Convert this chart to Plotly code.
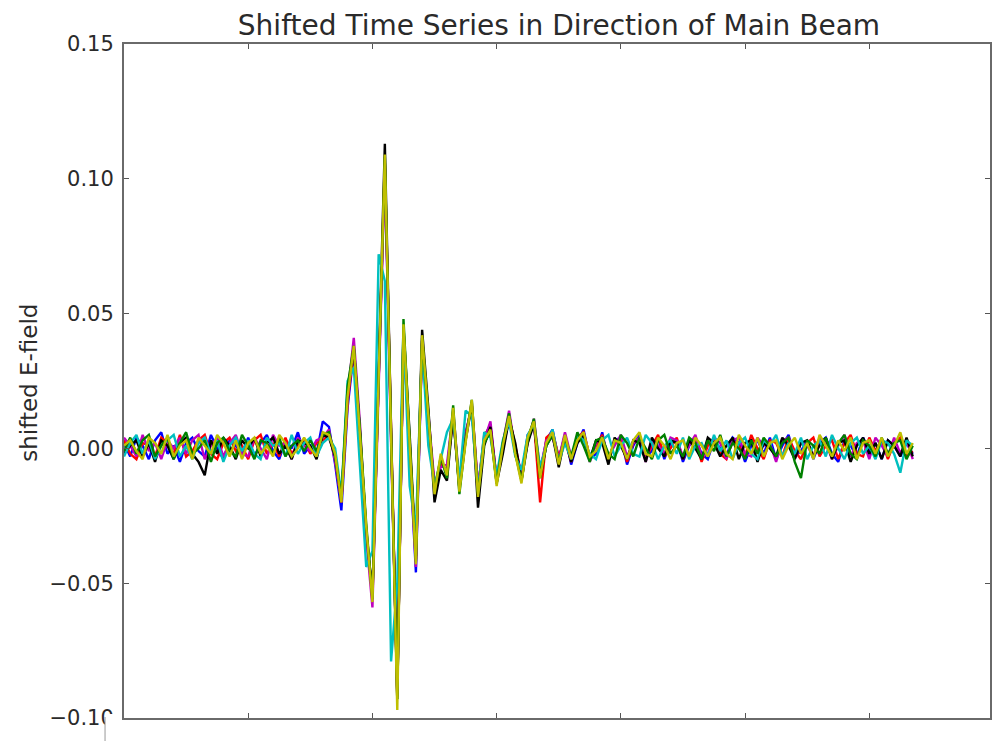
import plotly.graph_objects as go

# Sample spacing along the time axis
dt = 5

# Shifted E-field traces, one per antenna (matplotlib classic colour cycle)
trace_b = [
    0.002, -0.003, 0.004, 0.001, -0.004, 0.003, 0.006, -0.002, 0.001, -0.005,
    0.002, 0.004, -0.001, -0.003, 0.005, 0.000, -0.004, 0.003, 0.001, -0.002,
    0.004, -0.003, 0.002, 0.005, -0.001, -0.004, 0.003, 0.000, 0.006, -0.002,
    0.001, -0.002, 0.010, 0.008, -0.006, -0.023, 0.015, 0.036, 0.004, -0.032,
    -0.054, 0.026, 0.105, 0.004, -0.090, 0.043, -0.002, -0.046, 0.040, 0.010,
    -0.015, -0.006, -0.008, 0.013, -0.015, 0.006, 0.015, -0.016, 0.004, 0.009,
    -0.012, -0.001, 0.011, 0.000, -0.011, 0.005, 0.008, -0.009, 0.003, 0.007,
    -0.004,
    0.005, -0.006, 0.002, 0.007, -0.004, -0.002, 0.006, -0.005, 0.003, 0.004,
    -0.006, 0.001, 0.005, -0.003, -0.001, 0.004, -0.004, 0.002, 0.003, -0.005,
    0.001, 0.004, -0.002, -0.004, 0.003, 0.000, -0.003, 0.004, 0.002, -0.005,
    0.001, 0.003, -0.002, 0.004, -0.004, 0.001, 0.005, -0.003, -0.001, 0.003,
    -0.004, 0.002, 0.004, -0.002, -0.005, 0.003, 0.001, -0.003, 0.004, -0.001,
    0.002, -0.004, 0.003, 0.001, -0.003, 0.002, -0.002,
]

trace_g = [
    -0.001, 0.004, -0.002, 0.003, 0.005, -0.003, 0.001, 0.004, -0.004, 0.002,
    0.006, -0.002, 0.000, 0.003, -0.005, 0.002, 0.004, -0.001, -0.003, 0.005,
    0.001, -0.004, 0.003, 0.002, -0.002, 0.004, -0.003, 0.001, 0.003, -0.001,
    0.003, -0.001, 0.005, 0.006, -0.003, -0.018, 0.023, 0.038, 0.007, -0.028,
    -0.056, 0.028, 0.108, 0.006, -0.093, 0.048, 0.002, -0.042, 0.041, 0.013,
    -0.016, -0.003, -0.011, 0.016, -0.017, 0.003, 0.018, -0.017, 0.002, 0.006,
    -0.013, 0.002, 0.013, -0.002, -0.012, 0.003, 0.011, -0.010, 0.001, 0.005,
    -0.005,
    0.004, -0.003, 0.006, 0.001, -0.005, 0.003, 0.004, -0.002, -0.004, 0.005,
    0.002, -0.003, 0.004, 0.000, -0.004, 0.003, 0.005, -0.002, 0.001, -0.003,
    0.004, 0.002, -0.004, 0.003, -0.001, 0.005, -0.003, 0.002, 0.000, -0.004,
    0.003, -0.002, 0.004, 0.001, -0.003, 0.002, 0.004, -0.005, -0.011, 0.003,
    0.001, -0.002, 0.004, -0.003, 0.002, 0.005, -0.002, -0.004, 0.003, 0.001,
    -0.003, 0.004, -0.002, 0.002, 0.003, -0.004, 0.001,
]

trace_r = [
    0.003, -0.002, -0.004, 0.002, 0.001, -0.003, 0.004, 0.002, -0.002, 0.005,
    -0.003, -0.001, 0.003, 0.005, -0.002, -0.004, 0.002, 0.004, -0.001, 0.001,
    -0.004, 0.003, 0.005, -0.002, 0.002, -0.003, 0.004, -0.002, 0.001, 0.003,
    -0.002, 0.002, 0.003, 0.005, -0.004, -0.020, 0.017, 0.037, 0.005, -0.031,
    -0.055, 0.025, 0.106, 0.008, -0.092, 0.044, 0.003, -0.041, 0.040, 0.011,
    -0.014, -0.005, -0.009, 0.012, -0.014, 0.005, 0.016, -0.015, 0.005, 0.008,
    -0.011, 0.000, 0.012, 0.001, -0.010, 0.004, 0.010, -0.020, 0.004, 0.006,
    -0.003,
    0.003, -0.005, 0.004, 0.006, -0.003, 0.001, 0.005, -0.004, 0.002, 0.003,
    -0.005, 0.002, 0.003, -0.004, 0.001, 0.005, -0.003, 0.000, 0.004, -0.004,
    0.002, 0.003, -0.005, 0.001, 0.004, -0.002, -0.004, 0.003, 0.001, -0.003,
    0.005, 0.000, -0.004, 0.003, 0.002, -0.003, 0.004, -0.001, -0.004, 0.002,
    0.004, -0.003, 0.001, 0.003, -0.004, 0.002, 0.005, -0.002, -0.003, 0.004,
    -0.001, 0.003, -0.004, 0.002, 0.004, -0.003, -0.001,
]

trace_c = [
    -0.003, 0.002, 0.005, -0.002, 0.003, -0.004, 0.001, 0.003, 0.005, -0.003,
    0.001, -0.004, 0.002, 0.004, -0.002, 0.003, -0.005, 0.001, 0.004, -0.001,
    0.003, -0.002, -0.004, 0.004, 0.001, 0.002, -0.003, 0.005, -0.002, 0.002,
    0.004, -0.003, 0.002, 0.004, 0.000, -0.017, 0.025, 0.030, -0.008, -0.044,
    -0.038, 0.072, 0.062, -0.079, -0.050, 0.045, -0.014, -0.030, 0.038, 0.001,
    -0.014, -0.004, 0.006, 0.011, -0.012, 0.014, 0.012, -0.016, 0.006, 0.004,
    -0.010, 0.003, 0.010, -0.003, -0.008, 0.005, 0.009, -0.007, 0.001, 0.007,
    -0.005,
    0.002, -0.004, 0.005, 0.003, -0.002, -0.004, 0.003, 0.005, -0.003, 0.001,
    0.004, -0.002, -0.003, 0.005, 0.002, -0.004, 0.001, 0.003, -0.002, 0.004,
    -0.004, 0.001, 0.002, -0.003, 0.005, -0.001, 0.003, -0.004, 0.002, 0.004,
    -0.002, -0.004, 0.003, 0.001, 0.005, -0.003, 0.002, -0.002, 0.004, -0.004,
    0.001, 0.003, -0.003, 0.005, 0.000, -0.004, 0.002, 0.004, -0.002, 0.001,
    -0.004, 0.003, 0.002, -0.002, -0.009, 0.003, 0.001,
]

trace_m = [
    0.004, 0.001, -0.003, 0.005, -0.001, 0.002, -0.004, 0.003, 0.000, 0.004,
    -0.002, 0.003, 0.005, -0.004, 0.001, 0.004, -0.003, 0.002, 0.005, -0.002,
    -0.003, 0.004, 0.000, -0.004, 0.005, 0.001, 0.002, -0.004, 0.004, 0.001,
    -0.001, 0.003, 0.004, 0.007, -0.005, -0.019, 0.020, 0.041, 0.009, -0.033,
    -0.059, 0.023, 0.104, 0.002, -0.091, 0.042, 0.000, -0.044, 0.039, 0.014,
    -0.013, -0.007, -0.006, 0.014, -0.013, 0.004, 0.017, -0.014, 0.003, 0.010,
    -0.012, 0.002, 0.014, -0.001, -0.009, 0.002, 0.011, -0.008, 0.003, 0.004,
    -0.004,
    0.006, -0.003, 0.003, 0.005, -0.005, 0.002, 0.004, -0.003, 0.001, 0.005,
    -0.003, 0.002, 0.004, -0.005, 0.003, 0.001, -0.002, 0.004, 0.003, -0.003,
    0.001, 0.005, -0.003, -0.002, 0.004, 0.002, -0.004, 0.003, 0.004, -0.002,
    -0.003, 0.004, 0.001, 0.002, -0.005, 0.003, 0.004, -0.004, 0.002, 0.001,
    -0.003, 0.004, 0.002, -0.004, 0.001, 0.005, -0.003, 0.002, 0.003, -0.004,
    0.004, 0.001, -0.003, 0.004, -0.002, 0.003, -0.004,
]

trace_y = [
    0.001, 0.003, -0.001, -0.004, 0.004, 0.002, -0.002, 0.005, -0.003, 0.001,
    0.003, -0.004, 0.004, 0.001, -0.002, 0.005, 0.002, -0.003, 0.003, -0.004,
    0.002, 0.004, -0.002, 0.001, -0.003, 0.005, 0.002, -0.003, 0.000, 0.004,
    0.000, -0.003, 0.006, 0.005, -0.002, -0.020, 0.019, 0.038, 0.006, -0.029,
    -0.057, 0.027, 0.109, 0.005, -0.097, 0.046, 0.001, -0.043, 0.042, 0.012,
    -0.017, -0.002, -0.010, 0.015, -0.016, 0.002, 0.018, -0.018, 0.003, 0.007,
    -0.014, 0.001, 0.012, -0.002, -0.013, 0.004, 0.010, -0.011, 0.002, 0.006,
    -0.006,
    0.005, -0.004, 0.003, 0.006, -0.003, -0.001, 0.004, -0.004, 0.003, 0.002,
    -0.004, 0.003, 0.006, -0.002, -0.003, 0.004, 0.001, -0.004, 0.002, 0.003,
    -0.003, 0.004, 0.001, -0.003, 0.002, 0.004, -0.002, -0.004, 0.005, 0.001,
    -0.002, 0.004, -0.003, 0.002, 0.003, -0.004, 0.001, 0.004, -0.002, 0.002,
    -0.004, 0.005, 0.001, -0.003, 0.003, -0.001, 0.004, -0.004, 0.002, 0.003,
    -0.002, 0.004, -0.003, 0.001, 0.006, -0.002, 0.002,
]

trace_k = [
    -0.002, 0.001, 0.003, -0.003, 0.002, -0.005, 0.003, 0.001, -0.004, 0.002,
    0.004, -0.002, -0.005, -0.010, 0.003, -0.002, 0.004, 0.001, -0.004, 0.003,
    0.000, 0.004, -0.003, 0.002, 0.004, -0.002, 0.001, -0.004, 0.003, 0.002,
    0.001, -0.004, 0.005, 0.004, -0.003, -0.019, 0.021, 0.037, 0.006, -0.030,
    -0.054, 0.029, 0.113, 0.007, -0.093, 0.045, 0.005, -0.040, 0.044, 0.015,
    -0.020, -0.008, -0.012, 0.012, -0.015, 0.003, 0.016, -0.022, 0.001, 0.008,
    -0.013, -0.002, 0.011, 0.002, -0.012, 0.002, 0.009, -0.011, 0.001, 0.005,
    -0.007,
    0.004, -0.005, 0.002, 0.005, -0.004, 0.003, 0.002, -0.006, 0.004, 0.001,
    -0.004, 0.003, 0.002, -0.005, 0.004, 0.000, -0.003, 0.003, 0.002, -0.004,
    0.003, 0.000, -0.004, 0.004, 0.002, -0.003, 0.001, 0.004, -0.004, 0.002,
    0.003, -0.005, 0.002, 0.000, -0.003, 0.004, 0.001, -0.004, 0.002, 0.003,
    -0.003, 0.001, 0.004, -0.004, 0.002, 0.003, -0.005, 0.001, 0.004, -0.002,
    0.002, -0.004, 0.003, 0.001, -0.003, 0.004, -0.003,
]

# Drawing order: later traces sit on top
traces = [trace_b, trace_r, trace_m, trace_k, trace_c, trace_g, trace_y]
colors = ["#0000ff", "#ff0000", "#bf00bf", "#000000", "#00bfbf", "#008000", "#bfbf00"]

y_ticks = [-0.10, -0.05, 0.00, 0.05, 0.10, 0.15]
y_tick_text = ["\u22120.10", "\u22120.05", "0.00", "0.05", "0.10", "0.15"]
x_ticks = [0, 100, 200, 300, 400, 500, 600, 700]

W, H = 992, 741
L, R, T, B = 124, 0, 44, 23
PW, PH = W - L - R, H - T - B
px_per_unit = 1.245  # horizontal pixels per time unit
x_max = PW / px_per_unit


def px_x(p):
    return (p - L) / PW


def px_y(p):
    return (H - B - p) / PH


fig = go.Figure()
for vals, col in zip(traces, colors):
    fig.add_trace(go.Scatter(
        x=[i * dt for i in range(len(vals))],
        y=vals,
        mode="lines",
        line=dict(color=col, width=2.4),
        showlegend=False,
        hoverinfo="skip",
    ))

axis_common = dict(
    showgrid=False,
    zeroline=False,
    showline=True,
    linecolor="#6a6a6a",
    linewidth=2,
    mirror="ticks",
    ticks="inside",
    ticklen=5,
    tickwidth=1,
    tickcolor="#555555",
)

fig.update_xaxes(
    range=[0, x_max],
    tickvals=x_ticks,
    showticklabels=False,
    **axis_common,
)
fig.update_yaxes(
    range=[-0.10, 0.15],
    tickvals=y_ticks,
    ticktext=y_tick_text,
    tickfont=dict(family="DejaVu Sans", size=21, color="#2a2a2a"),
    ticklabelstandoff=4,
    **axis_common,
)

fig.update_layout(
    width=W,
    height=H,
    margin=dict(l=L, r=R, t=T, b=B),
    paper_bgcolor="white",
    plot_bgcolor="white",
    title=dict(
        text="Shifted Time Series in Direction of Main Beam",
        x=px_x(560),
        xref="paper",
        xanchor="center",
        y=1 - 25 / H,
        yref="container",
        yanchor="middle",
        font=dict(family="DejaVu Sans", size=28, color="#2a2a2a"),
    ),
    annotations=[
        dict(
            text="shifted E-field",
            textangle=-90,
            xref="paper",
            yref="paper",
            x=px_x(28.5),
            y=px_y(383),
            xanchor="center",
            yanchor="middle",
            showarrow=False,
            font=dict(family="DejaVu Sans", size=23, color="#2a2a2a"),
        )
    ],
    shapes=[
        # blank strip over the lower-left corner of the frame
        dict(
            type="rect", xref="paper", yref="paper",
            x0=px_x(105), x1=px_x(121),
            y0=px_y(741), y1=px_y(714),
            fillcolor="white", line=dict(width=0), layer="above",
        ),
        dict(
            type="line", xref="paper", yref="paper",
            x0=px_x(105), x1=px_x(105),
            y0=px_y(741), y1=px_y(717),
            line=dict(color="#999999", width=1), layer="above",
        ),
    ],
)

fig.write_html("out.html")
